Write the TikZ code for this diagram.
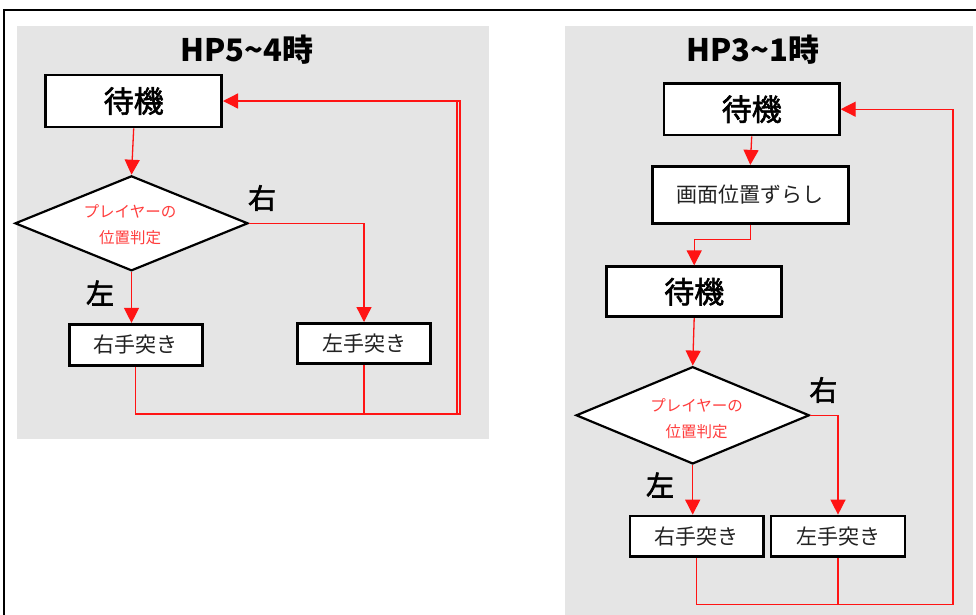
\documentclass[tikz,border=0pt]{standalone}
\usepackage{fontspec}
\setmainfont{Noto Sans CJK JP}
\newfontfamily\jpmid{Noto Sans CJK JP}[FakeBold=2]
\usetikzlibrary{shapes.geometric,arrows.meta}
\definecolor{panelgray}{RGB}{229,229,229}
\definecolor{flowred}{RGB}{255,20,20}
\definecolor{txtred}{RGB}{255,60,60}
\definecolor{boxtxt}{RGB}{34,34,34}
\tikzset{
  panel/.style={fill=panelgray,draw=none},
  boxbig/.style={draw=black,fill=white,line width=2.6pt,rectangle,inner sep=0pt,
    font=\fontsize{30}{32}\jpmid\selectfont},
  boxsmall/.style={draw=black,fill=white,line width=2.6pt,rectangle,inner sep=0pt,
    font=\fontsize{21}{24}\selectfont,text=boxtxt},
  decide/.style={draw=black,fill=white,line width=2.2pt,diamond,inner sep=0pt},
  dtext/.style={font=\fontsize{15.5}{26}\selectfont,text=txtred,align=center,inner sep=0pt},
  branch/.style={font=\fontsize{28}{30}\jpmid\selectfont,inner sep=0pt},
  title/.style={font=\fontsize{31}{34}\bfseries\selectfont,inner sep=0pt},
  flow/.style={draw=flowred,line width=1.3pt},
  flowar/.style={flow,-{Triangle[length=15pt,width=15pt]}},
}
\begin{document}
\begin{tikzpicture}[x=1pt,y=-1pt]
\useasboundingbox (0,0) rectangle (976,614);
% frame
\draw[line width=2.5pt,black] (4,616) -- (4,10) -- (978,10);
% panels
\fill[panel] (16.7,26) rectangle (489,439);
\fill[panel] (565,26) rectangle (972.7,616);

% ---------- left panel ----------
\node[title] (t1) at (247,50) {HP5\textasciitilde4時};
\node[boxbig,minimum width=176pt,minimum height=52pt] (w1) at (133.7,101) {待機};
\node[decide,minimum width=233pt,minimum height=95pt] (d1) at (131.5,223.3) {};
\node[dtext] (d1t) at (130,224.5) {プレイヤーの\\位置判定};
\node[boxsmall,minimum width=133pt,minimum height=41pt] (r1) at (135.7,344.7) {右手突き};
\node[boxsmall,minimum width=133pt,minimum height=40pt] (l1) at (364,343.3) {左手突き};
\node[branch] (b1r) at (262,198) {右};
\node[branch] (b1l) at (100,293) {左};
\coordinate (lp1) at (460,414);
\coordinate (lp1b) at (457,414);

\draw[flowar] (w1.south) -- (d1.north);
\draw[flowar] (d1.south) -- (d1.south |- r1.north);
\draw[flowar] (d1.east) -| (l1.north);
\draw[flowar] (r1.south) |- (lp1) |- (w1.east);
\draw[flow] (l1.south) -- (l1.south |- lp1);
\draw[flow] (lp1b) -- (lp1b |- w1.east);

% ---------- right panel ----------
\node[title] (t2) at (752.7,50) {HP3\textasciitilde1時};
\node[boxbig,minimum width=175.3pt,minimum height=51.7pt] (w2) at (751.7,109.2) {待機};
\node[boxsmall,minimum width=196pt,minimum height=57pt] (s2) at (750.3,194.7) {画面位置ずらし};
\node[boxbig,minimum width=175pt,minimum height=50pt] (w3) at (694.2,291.7) {待機};
\node[decide,minimum width=233.3pt,minimum height=97.3pt] (d2) at (692.7,415.3) {};
\node[dtext] (d2t) at (696.7,419) {プレイヤーの\\位置判定};
\node[boxsmall,minimum width=133.3pt,minimum height=40.7pt] (r2) at (696.7,536.3) {右手突き};
\node[boxsmall,minimum width=134pt,minimum height=40.7pt] (l2) at (838,536.3) {左手突き};
\node[branch] (b2r) at (823.3,390) {右};
\node[branch] (b2l) at (660,485) {左};
\coordinate (lp2) at (953.3,604.3);

\draw[flowar] (w2.south) -- (s2.north);
\draw[flowar] (s2.south) -- ++(0,15) -| (w3.north);
\draw[flowar] (w3.south) -- (d2.north);
\draw[flowar] (d2.south) -- (d2.south |- r2.north);
\draw[flowar] (d2.east) -| (l2.north);
\draw[flowar] (r2.south) |- (lp2) |- (w2.east);
\draw[flow,line width=2.2pt] (lp2) -- (lp2 |- w2.east);
\draw[flow] (l2.south) -- (l2.south |- lp2);
\end{tikzpicture}
\end{document}
